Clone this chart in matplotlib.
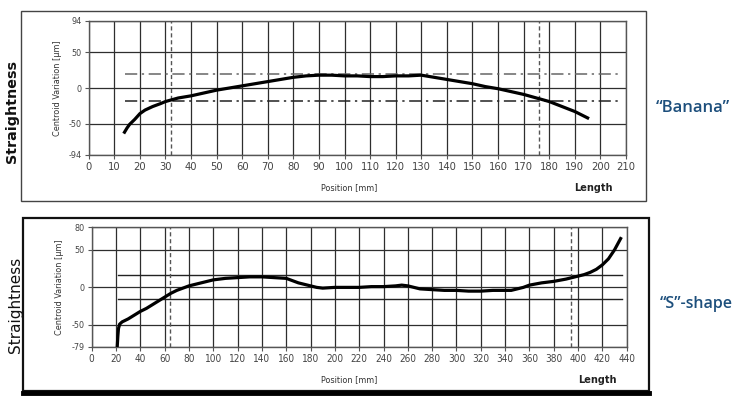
import matplotlib
matplotlib.use("Agg")
import matplotlib.pyplot as plt
from matplotlib.patches import Rectangle
from matplotlib.lines import Line2D

# ---------------- data ----------------
top_x = [14, 15, 16, 18, 20, 22, 25, 28, 30, 32, 35, 40, 45, 50, 55, 60, 65, 70, 75, 80,
         85, 90, 95, 100, 105, 110, 115, 120, 125, 130, 135, 140, 145, 150, 155, 160,
         165, 170, 175, 180, 185, 190, 195]
top_y = [-62, -56, -51, -44, -36, -31, -26, -22, -19, -17, -14, -11, -7, -3, 0, 3, 6, 9, 12, 15,
         17, 18, 18, 17, 17, 16, 16, 17, 17, 18, 15, 12, 9, 6, 2, -1,
         -5, -9, -14, -19, -26, -33, -42]
top_xticks = list(range(0, 211, 10))
top_yticks = [-94, -50, 0, 50, 94]
top_tol = [20, -18]
top_vmarks = [32, 176]

bot_x = [21, 21.5, 22, 23, 25, 30, 35, 40, 45, 50, 55, 60, 65, 70, 75, 80, 90, 100, 110, 120,
         130, 140, 150, 160, 165, 170, 175, 180, 185, 190, 200, 210, 220, 230, 240, 250, 255,
         260, 265, 270, 280, 290, 300, 310, 320, 330, 340, 345, 350, 355, 360, 370, 380, 390,
         400, 405, 410, 415, 420, 425, 430, 435]
bot_y = [-79, -65, -55, -49, -46, -42, -37, -32, -28, -23, -18, -13, -8, -4, -1, 2, 6, 10, 12, 13,
         14, 14, 13, 12, 9, 6, 4, 2, 0, -1, 0, 0, 0, 1, 1, 2, 3,
         2, 0, -2, -3, -4, -4, -5, -5, -4, -4, -4, -2, 0, 3, 6, 8, 11,
         15, 17, 20, 24, 30, 38, 50, 65]
bot_xticks = list(range(0, 441, 20))
bot_yticks = [-79, -50, 0, 50, 80]
bot_tol = [17, -15]
bot_vmarks = [64, 394]

W, H = 736, 401
fig = plt.figure(figsize=(W / 100, H / 100), dpi=100)
fig.patch.set_facecolor("white")

def fx(px):
    return px / W

def fy(py):
    return 1 - py / H

tick_font = dict(family=["DejaVu Sans"], stretch="condensed")
gc = "#2e2e2e"

def make_axes(l, r, t, b, xt, yt, xs, ys, tol, tol_x0, tol_x1, vmarks, tolstyle, xfs):
    ax = fig.add_axes([fx(l), fy(b), fx(r - l), (b - t) / H])
    ax.set_xlim(xt[0], xt[-1])
    ax.set_ylim(yt[0], yt[-1])
    ax.set_xticks(xt)
    ax.set_yticks(yt)
    ax.set_xticklabels([str(v) for v in xt], fontsize=xfs, color="#444444", **tick_font)
    ax.set_yticklabels([str(v) for v in yt], fontsize=6.5, color="#444444", **tick_font)
    ax.tick_params(axis="both", length=3, width=0.8, color="#555555", pad=2)
    ax.grid(True, color=gc, linewidth=0.9)
    for s in ax.spines.values():
        s.set_color("#555555")
        s.set_linewidth(1.0)
    for i, v in enumerate(tol):
        ax.plot([tol_x0, tol_x1], [v, v], **tolstyle[i], zorder=3)
    for v in vmarks:
        ax.axvline(v, color="#555555", linewidth=1.0, linestyle=(0, (3, 2)), zorder=3)
    ax.plot(xs, ys, color="black", linewidth=2.3, zorder=4, solid_joinstyle="miter")
    return ax

top_style = [dict(color="#666666", linewidth=1.1, dashes=(8, 3, 1.5, 3)),
             dict(color="#222222", linewidth=1.1, dashes=(8, 3, 1.5, 3))]
bot_style = [dict(color="#222222", linewidth=1.0), dict(color="#222222", linewidth=1.0)]

ax1 = make_axes(88.7, 626, 21, 155, top_xticks, top_yticks, top_x, top_y,
                top_tol, 14, 207, top_vmarks, top_style, 8)
ax2 = make_axes(91.7, 626.7, 227.3, 346.7, bot_xticks, bot_yticks, bot_x, bot_y,
                bot_tol, 22, 436, bot_vmarks, bot_style, 7.2)

# labels
for ax, ycen_px, xlab_px in [(ax1, 88, 57), (ax2, 287, 60)]:
    fig.text(fx(xlab_px), fy(ycen_px), "Centroid Variation [\u00b5m]", rotation=90,
             ha="center", va="center", fontsize=6.5, color="#333333", **tick_font)

fig.text(fx(349), fy(188), "Position [mm]", ha="center", va="center", fontsize=6.5,
         color="#333333", **tick_font)
fig.text(fx(593), fy(188), "Length", ha="center", va="center", fontsize=7,
         fontweight="bold", color="#222222")
fig.text(fx(349), fy(380), "Position [mm]", ha="center", va="center", fontsize=6.5,
         color="#333333", **tick_font)
fig.text(fx(597), fy(380), "Length", ha="center", va="center", fontsize=7,
         fontweight="bold", color="#222222")

fig.text(fx(12), fy(112), "Straightness", rotation=90, ha="center", va="center",
         fontsize=10.3, fontweight="bold", color="#111111")
fig.text(fx(16), fy(305), "Straightness", rotation=90, ha="center", va="center",
         fontsize=11, color="#111111")

fig.text(fx(693), fy(108), "\u201cBanana\u201d", ha="center", va="center", fontsize=12,
         fontweight="semibold", color="#1d4f7c", family=["Open Sans", "DejaVu Sans"],
         stretch="condensed")
fig.text(fx(696), fy(304), "\u201cS\u201d-shape", ha="center", va="center", fontsize=11.5,
         fontweight="semibold", color="#1d4f7c", family=["Open Sans", "DejaVu Sans"],
         stretch="condensed")

# frames
fig.patches.append(Rectangle((fx(20.5), fy(200.5)), fx(646 - 20.5), (200.5 - 11) / H,
                             transform=fig.transFigure, fill=False, edgecolor="#444444",
                             linewidth=1.0))
fig.patches.append(Rectangle((fx(23), fy(391)), fx(648.5 - 23), (391 - 218) / H,
                             transform=fig.transFigure, fill=False, edgecolor="#111111",
                             linewidth=1.6))
fig.lines.append(Line2D([fx(22.5), fx(649)], [fy(393), fy(393)], transform=fig.transFigure,
                        color="#000000", linewidth=3.5))

fig.savefig("out.png", dpi=100, facecolor="white")
